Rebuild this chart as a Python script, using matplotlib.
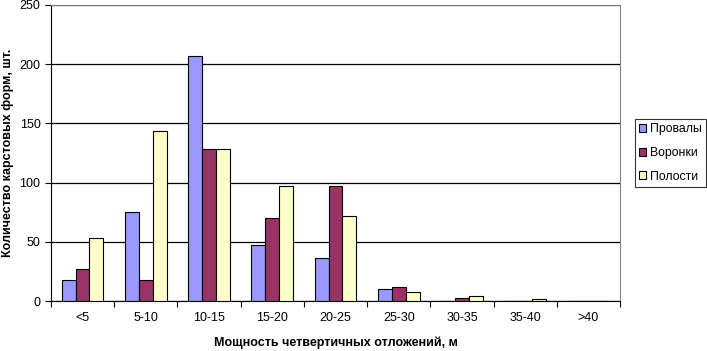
import numpy as np
import matplotlib
matplotlib.use("Agg")
from matplotlib import pyplot as plt

plt.rcParams['font.family'] = ['Liberation Sans', 'DejaVu Sans']

categories = ["<5", "5-10", "10-15", "15-20", "20-25", "25-30", "30-35", "35-40", ">40"]
provaly = [18, 75, 207, 47, 36, 10, 0, 0, 0]
voronki = [27, 18, 128, 70, 97, 12, 3, 0, 0]
polosti = [53, 144, 128, 97, 72, 8, 4, 2, 0]
series_names = ["Провалы", "Воронки", "Полости"]
colors = ["#9999FF", "#993366", "#FFFFCC"]

fig = plt.figure(figsize=(7.07, 3.51), dpi=100)
ax = fig.add_axes([0.072, 0.142, 0.805, 0.844])

x = np.arange(len(categories))
w = 0.22
for i, (vals, name, c) in enumerate(zip([provaly, voronki, polosti], series_names, colors)):
    ax.bar(x + (i - 1) * w, vals, w, color=c, edgecolor="black", linewidth=0.8, label=name, zorder=3)

ax.set_xlim(-0.5, len(categories) - 0.5)
ax.set_ylim(0, 250)
ax.set_yticks([0, 50, 100, 150, 200, 250])
ax.yaxis.grid(True, color="black", linewidth=0.9, zorder=0)
ax.set_xticks(np.arange(len(categories) + 1) - 0.5, minor=False)
ax.set_xticklabels([])
ax.set_xticks(x, minor=True)
ax.set_xticklabels(categories, minor=True)
ax.tick_params(axis="x", which="minor", length=0, pad=8, labelsize=9)
ax.tick_params(axis="x", which="major", length=4, direction="out")
ax.tick_params(axis="y", labelsize=9, length=4, direction="out")

for s in ["top", "right"]:
    ax.spines[s].set_color("#808080")
ax.spines["left"].set_color("black")
ax.spines["bottom"].set_color("black")

ax.set_xlabel("Мощность четвертичных отложений, м", fontsize=9, fontweight="bold")
ax.xaxis.set_label_coords(0.5, -0.142)
ax.xaxis.label.set_va("center")
ax.set_ylabel("Количество карстовых форм, шт.", fontsize=9, fontweight="bold")
ax.yaxis.set_label_coords(-0.0756, 0.5)
ax.yaxis.label.set_va("center")

leg = ax.legend(loc="center left", bbox_to_anchor=(1.019, 0.5), fontsize=8.8, frameon=True,
                fancybox=False, edgecolor="black", handlelength=0.6, handleheight=0.6,
                handletextpad=0.3, borderpad=0.35, borderaxespad=0.3, labelspacing=0.95)
leg.get_frame().set_linewidth(0.8)

fig.savefig("out.png", dpi=100)
